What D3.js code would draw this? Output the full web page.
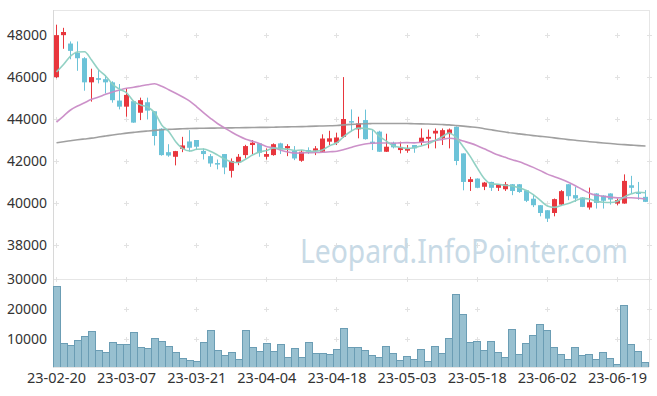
<!DOCTYPE html>
<html>
<head>
<meta charset="utf-8">
<script src="https://cdn.jsdelivr.net/npm/d3@7"></script>
<style>
  body { margin: 0; background: #fff; }
  #chart { width: 657px; height: 396px; }
  svg { display: block; font-family: 'Noto Sans', sans-serif; }
</style>
</head>
<body>
<div id="chart"></div>
<script>
const dates = [
  '23-02-20', '23-02-21', '23-02-22', '23-02-23', '23-02-24', '23-02-27', '23-02-28', '23-03-02', '23-03-03', '23-03-06',
  '23-03-07', '23-03-08', '23-03-09', '23-03-10', '23-03-13', '23-03-14', '23-03-15', '23-03-16', '23-03-17', '23-03-20',
  '23-03-21', '23-03-22', '23-03-23', '23-03-24', '23-03-27', '23-03-28', '23-03-29', '23-03-30', '23-03-31', '23-04-03',
  '23-04-04', '23-04-05', '23-04-06', '23-04-07', '23-04-10', '23-04-11', '23-04-12', '23-04-13', '23-04-14', '23-04-17',
  '23-04-18', '23-04-19', '23-04-20', '23-04-21', '23-04-24', '23-04-25', '23-04-26', '23-04-27', '23-04-28', '23-05-02',
  '23-05-03', '23-05-04', '23-05-08', '23-05-09', '23-05-10', '23-05-11', '23-05-12', '23-05-15', '23-05-16', '23-05-17',
  '23-05-18', '23-05-19', '23-05-22', '23-05-23', '23-05-24', '23-05-25', '23-05-26', '23-05-30', '23-05-31', '23-06-01',
  '23-06-02', '23-06-05', '23-06-07', '23-06-08', '23-06-09', '23-06-12', '23-06-13', '23-06-14', '23-06-15', '23-06-16',
  '23-06-19', '23-06-20', '23-06-21', '23-06-22', '23-06-23'
];

const openPrices = [
  46000, 48000, 47600, 47150, 46900, 45750, 45950, 45900, 45750, 44880,
  44590, 44850, 44300, 44800, 44370, 43540, 42420, 42200, 42580, 42930,
  43000, 42480, 42230, 41900, 42330, 41530, 41930, 42280, 42760, 42840,
  42200, 42280, 42840, 42600, 42480, 42010, 42520, 42490, 42440, 42920,
  42870, 43150, 43900, 43510, 43950, 42920, 43400, 42440, 42870, 42520,
  42490, 42760, 42870, 43060, 43310, 43080, 43280, 43630, 42360, 41000,
  41160, 40770, 41000, 40720, 40650, 40890, 40890, 40600, 40200, 39890,
  39650, 39520, 39920, 40890, 40370, 40260, 39780, 40450, 40350, 40450,
  39970, 39970, 40840, 40500, 40290
];

const highPrices = [
  48500, 48350, 47700, 47700, 46950, 46400, 46350, 46100, 45800, 45670,
  45470, 44870, 45020, 45020, 44380, 43560, 42800, 42480, 43150, 43470,
  43000, 42600, 42330, 42070, 42330, 42120, 42330, 42770, 43000, 42850,
  42600, 42840, 42870, 42800, 42710, 42520, 42650, 42710, 43270, 43440,
  43350, 46000, 44460, 44110, 44450, 43470, 43440, 43300, 42920, 42920,
  42760, 42760, 43550, 43500, 43550, 43550, 43550, 43650, 42360, 41240,
  41170, 41000, 41010, 40900, 41000, 40900, 40900, 40620, 40370, 39900,
  39660, 40210, 40610, 40900, 40770, 40270, 40730, 40460, 40360, 40460,
  40210, 41360, 41290, 41000, 40610
];

const lowPrices = [
  45950, 47350, 46850, 46300, 45350, 44830, 45700, 45220, 44780, 44460,
  44110, 43820, 43950, 43980, 42740, 42250, 42200, 41790, 42420, 42440,
  42520, 42070, 41720, 41600, 41370, 41210, 41800, 42120, 42330, 42200,
  42070, 42250, 42330, 42230, 42040, 41960, 42330, 42280, 42420, 42760,
  42760, 43100, 43400, 43080, 43020, 42520, 42430, 42430, 42600, 42360,
  42390, 42390, 42750, 42600, 42600, 42760, 42600, 41800, 40600, 40570,
  40700, 40610, 40570, 40570, 40570, 40370, 40480, 40040, 39800, 39360,
  39090, 39360, 39890, 40130, 40050, 39800, 39680, 39730, 39730, 39920,
  39890, 39960, 40450, 40150, 40040
];

const closePrices = [
  48000, 48150, 47250, 46900, 45750, 46000, 45870, 45750, 44900, 44590,
  45150, 43830, 44900, 44400, 43190, 42280, 42260, 42470, 42740, 42630,
  42680, 42330, 41880, 41870, 41690, 42000, 42200, 42710, 42870, 42390,
  42330, 42800, 42550, 42710, 42120, 42440, 42470, 42600, 43070, 43080,
  43120, 44000, 43830, 43790, 43040, 42840, 42440, 42680, 42650, 42650,
  42580, 42600, 43110, 43150, 43440, 43470, 43500, 42000, 41000, 41130,
  40720, 40970, 40720, 40890, 40890, 40570, 40520, 40100, 39890, 39520,
  39250, 40180, 40560, 40320, 40210, 39810, 40030, 40000, 40100, 40160,
  40130, 41050, 40720, 40480, 40050
];

const volumes = [
  27550, 8550, 7880, 9550, 10880, 12550, 6220, 5550, 8880, 8220,
  8220, 12220, 7220, 6880, 10200, 9220, 7550, 5550, 3550, 2880,
  2550, 8880, 12900, 6220, 4550, 5550, 3220, 12900, 7220, 5880,
  8550, 5880, 8220, 3900, 6880, 3900, 8880, 5220, 5220, 4900,
  6550, 13550, 7220, 7220, 6220, 4550, 3900, 7550, 5220, 2880,
  4220, 3220, 6550, 2550, 7550, 5220, 10200, 24900, 18200, 8880,
  9220, 6220, 9220, 5550, 3900, 13200, 4900, 8550, 11200, 14900,
  12900, 7220, 4900, 3220, 7220, 4550, 4900, 3220, 5550, 3550,
  1550, 21200, 8220, 5880, 2220
];

const ma5 = [
  46250, 46600, 47000, 47200, 47210, 46810, 46354, 46054, 45654, 45422,
  45252, 44844, 44674, 44574, 44294, 43720, 43406, 42920, 42588, 42476,
  42556, 42570, 42452, 42278, 42090, 41954, 41928, 42094, 42294, 42434,
  42500, 42620, 42588, 42556, 42502, 42524, 42458, 42468, 42540, 42732,
  42868, 43174, 43420, 43564, 43556, 43500, 43188, 42958, 42730, 42652,
  42600, 42632, 42718, 42818, 42976, 43154, 43334, 43112, 42682, 42220,
  41670, 41164, 40908, 40886, 40838, 40808, 40718, 40594, 40394, 40120,
  39856, 39788, 39880, 39966, 40104, 40216, 40186, 40074, 40030, 40020,
  40084, 40288, 40432, 40508, 40486
];

const ma20 = [
  43856, 44143, 44430, 44621, 44778, 44940, 45051, 45180, 45290, 45385,
  45467, 45514, 45576, 45639, 45680, 45560, 45400, 45230, 45050, 44851,
  44585, 44294, 44025, 43774, 43571, 43371, 43187, 43035, 42934, 42824,
  42683, 42631, 42514, 42429, 42376, 42384, 42394, 42401, 42417, 42440,
  42462, 42545, 42643, 42739, 42806, 42848, 42860, 42859, 42848, 42861,
  42873, 42863, 42891, 42913, 42979, 43031, 43082, 43052, 42949, 42851,
  42731, 42580, 42424, 42279, 42172, 42058, 41962, 41833, 41695, 41539,
  41372, 41251, 41124, 40982, 40821, 40638, 40464, 40364, 40319, 40271,
  40241, 40245, 40245, 40225, 40183
];

const ma120 = [
  42870, 42920, 42965, 43010, 43050, 43090, 43140, 43190, 43240, 43285,
  43330, 43365, 43400, 43430, 43460, 43490, 43505, 43520, 43535, 43545,
  43555, 43560, 43565, 43570, 43575, 43580, 43585, 43590, 43595, 43600,
  43602, 43610, 43618, 43625, 43632, 43640, 43650, 43660, 43670, 43680,
  43690, 43720, 43745, 43765, 43778, 43784, 43788, 43790, 43790, 43788,
  43784, 43778, 43770, 43760, 43750, 43737, 43720, 43690, 43660, 43628,
  43593, 43540, 43485, 43430, 43380, 43330, 43290, 43250, 43210, 43175,
  43140, 43100, 43060, 43020, 42985, 42950, 42920, 42890, 42860, 42830,
  42800, 42780, 42755, 42730, 42710
];

const priceTicks = [38000, 40000, 42000, 44000, 46000, 48000];
const volumeTicks = [10000, 20000, 30000];
const dateTickIndexes = [0, 10, 20, 30, 40, 50, 60, 70, 80];
const watermarkText = 'Leopard.InfoPointer.com';

const margin = Object.freeze({
  top: 10,
  right: 8,
  bottom: 29,
  left: 53
});

const panel = Object.freeze({
  priceBottom: 270,
  volumeTop: 279
});

const colors = Object.freeze({
  up: '#e8363d',
  down: '#6cc3d8',
  volumeFill: '#98c0d0',
  volumeStroke: '#6b9db4',
  ma5: '#8ccfc1',
  ma20: '#c98bc6',
  ma120: '#9b9b9b',
  frame: '#e6e6e6',
  cross: '#e2e2e2',
  text: '#333'
});

class StockChart {
  constructor (el) {
    this.el = el;
    this.count = dates.length;
  }

  createChart () {
    this._setSizeParameters();
    this._createSvgElement();
    this._prepareScales();
    this._drawFrame();
    this._drawCrosses();
    this._drawWatermark();
    this._drawVolumeBars();
    this._drawCandles();
    this._drawAverages();
    this._drawAxes();
    return this;
  }

  _setSizeParameters () {
    this.width = this.el.clientWidth;
    this.height = this.el.clientHeight;
    this.left = margin.left;
    this.right = this.width - margin.right;
    this.bottom = this.height - margin.bottom;
  }

  _createSvgElement () {
    this.svg = d3.select(this.el).append('svg')
      .attr('width', this.width)
      .attr('height', this.height);

    this.svg.append('clipPath')
      .attr('id', 'plot-clip')
      .append('rect')
      .attr('x', this.left)
      .attr('y', margin.top)
      .attr('width', this.right - this.left)
      .attr('height', this.bottom - margin.top);
  }

  _prepareScales () {
    this.x = d3.scaleBand()
      .domain(d3.range(this.count))
      .range([this.left, this.right])
      .padding(0);

    // price panel: 48000 sits at ~35px, 38000 at ~245px
    this.yPrice = d3.scaleLinear()
      .domain([36800, 49200])
      .range([panel.priceBottom, margin.top]);

    this.yVolume = d3.scaleLinear()
      .domain([700, 30000])
      .range([this.bottom, panel.volumeTop]);
  }

  _center (i) {
    return Math.floor(this.x(i) + this.x.step() / 2) + 0.5;
  }

  _drawFrame () {
    const g = this.svg.append('g').attr('class', 'frame')
      .attr('stroke', colors.frame)
      .attr('stroke-width', 1)
      .attr('shape-rendering', 'crispEdges');

    g.append('line')
      .attr('x1', this.left).attr('x2', this.right)
      .attr('y1', margin.top + 0.5).attr('y2', margin.top + 0.5);
    g.append('line')
      .attr('x1', this.right + 0.5).attr('x2', this.right + 0.5)
      .attr('y1', margin.top).attr('y2', this.bottom);
    g.append('line')
      .attr('x1', this.left).attr('x2', this.right)
      .attr('y1', panel.volumeTop + 0.5).attr('y2', panel.volumeTop + 0.5);
    g.append('line')
      .attr('x1', this.left).attr('x2', this.right)
      .attr('y1', this.bottom + 0.5).attr('y2', this.bottom + 0.5);
    g.append('line')
      .attr('stroke', '#d8d8d8')
      .attr('x1', this.left + 0.5).attr('x2', this.left + 0.5)
      .attr('y1', margin.top).attr('y2', this.bottom + 1);
  }

  _drawCrosses () {
    const xs = dateTickIndexes.map(i => this._center(i)).concat([this.right + 0.5]);
    const ys = priceTicks.map(v => Math.round(this.yPrice(v)) + 0.5)
      .concat(volumeTicks.map(v => Math.round(this.yVolume(v)) + 0.5));

    const points = [];
    xs.forEach(x => ys.forEach(y => points.push([x, y])));

    this.svg.append('g').attr('class', 'crosses')
      .selectAll('path')
      .data(points)
      .join('path')
      .attr('d', d => `M${d[0] - 2.5},${d[1]}h5M${d[0]},${d[1] - 2.5}v5`)
      .attr('stroke', colors.cross)
      .attr('stroke-width', 1)
      .attr('fill', 'none');
  }

  _drawWatermark () {
    const mark = this.svg.append('text')
      .attr('x', 0)
      .attr('y', 0)
      .attr('font-size', 32)
      .attr('fill', '#c8dae6')
      .text(watermarkText);

    // squeeze horizontally so it spans 300..628 like the original
    const natural = mark.node().getComputedTextLength();
    mark.attr('transform', `translate(300, 263) scale(${328 / natural}, 1)`);
  }

  _drawVolumeBars () {
    this.svg.append('g').attr('class', 'volume')
      .attr('clip-path', 'url(#plot-clip)')
      .selectAll('rect')
      .data(volumes)
      .join('rect')
      .attr('x', (d, i) => Math.floor(this.x(i)) + 0.5)
      .attr('y', d => Math.round(this.yVolume(d)) + 0.5)
      .attr('width', Math.round(this.x.step()))
      .attr('height', d => this.bottom - Math.round(this.yVolume(d)))
      .attr('fill', colors.volumeFill)
      .attr('stroke', colors.volumeStroke)
      .attr('stroke-width', 1);
  }

  _drawCandles () {
    const candles = dates.map((d, i) => ({
      i,
      open: openPrices[i],
      high: highPrices[i],
      low: lowPrices[i],
      close: closePrices[i]
    }));
    const color = d => d.close >= d.open ? colors.up : colors.down;

    const g = this.svg.append('g').attr('class', 'candles')
      .attr('clip-path', 'url(#plot-clip)');

    g.selectAll('line')
      .data(candles)
      .join('line')
      .attr('x1', d => this._center(d.i))
      .attr('x2', d => this._center(d.i))
      .attr('y1', d => this.yPrice(d.high))
      .attr('y2', d => this.yPrice(d.low))
      .attr('stroke', color)
      .attr('stroke-width', 1);

    g.selectAll('rect')
      .data(candles)
      .join('rect')
      .attr('x', d => this._center(d.i) - 2.5)
      .attr('width', 5)
      .attr('y', d => this.yPrice(Math.max(d.open, d.close)))
      .attr('height', d => Math.max(1.5, Math.abs(this.yPrice(d.open) - this.yPrice(d.close))))
      .attr('fill', color);
  }

  _drawAverages () {
    const line = d3.line()
      .x((d, i) => this.x(i) + this.x.step() / 2)
      .y(d => this.yPrice(d))
      .curve(d3.curveMonotoneX);

    const g = this.svg.append('g').attr('class', 'averages')
      .attr('clip-path', 'url(#plot-clip)')
      .attr('fill', 'none')
      .attr('stroke-width', 1.6);

    [[ma120, colors.ma120], [ma20, colors.ma20], [ma5, colors.ma5]].forEach(([values, c]) => {
      g.append('path')
        .datum(values)
        .attr('d', line)
        .attr('stroke', c)
        .attr('stroke-opacity', 0.95);
    });
  }

  _drawAxes () {
    const fmt = d3.format('d');

    const priceAxis = this.svg.append('g')
      .attr('class', 'axis axis-price')
      .attr('transform', `translate(${this.left}, 0)`)
      .call(d3.axisLeft(this.yPrice).tickValues(priceTicks).tickFormat(fmt).tickSize(0).tickPadding(6));

    const volumeAxis = this.svg.append('g')
      .attr('class', 'axis axis-volume')
      .attr('transform', `translate(${this.left}, 0)`)
      .call(d3.axisLeft(this.yVolume).tickValues(volumeTicks).tickFormat(fmt).tickSize(0).tickPadding(6));

    [priceAxis, volumeAxis].forEach(axis => {
      axis.select('.domain').remove();
      axis.selectAll('text')
        .attr('font-family', "'Noto Sans', sans-serif")
        .attr('font-size', 14)
        .attr('fill', colors.text);
    });

    this.svg.append('g')
      .attr('class', 'axis axis-x')
      .selectAll('text')
      .data(dateTickIndexes)
      .join('text')
      .attr('x', i => this.x(i) + this.x.step() / 2)
      .attr('y', this.bottom + 16)
      .attr('text-anchor', 'middle')
      .attr('font-size', 14.5)
      .attr('fill', colors.text)
      .text(i => dates[i]);
  }
}

new StockChart(document.getElementById('chart')).createChart();
</script>
</body>
</html>
